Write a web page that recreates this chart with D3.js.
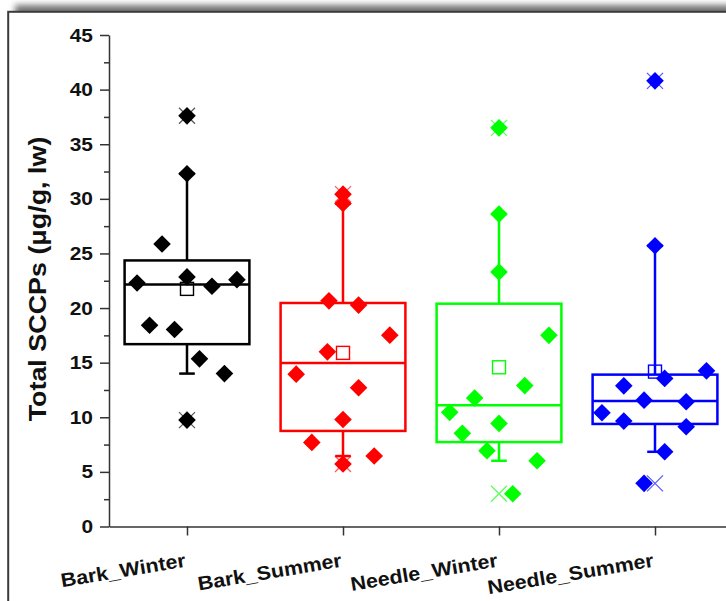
<!DOCTYPE html>
<html>
<head>
<meta charset="utf-8">
<script src="https://cdn.jsdelivr.net/npm/d3@7"></script>
<style>
  html, body { margin: 0; padding: 0; background: #fff; overflow: hidden; }
  svg { display: block; }
  text { font-family: "Liberation Sans", Arial, sans-serif; font-weight: bold; fill: #111; }
</style>
</head>
<body>
<svg id="chart" width="726" height="601"></svg>
<script>
// Sample groups along the x axis
const categories = ["Bark_Winter", "Bark_Summer", "Needle_Winter", "Needle_Summer"];
const seriesColors = ["#000000", "#ff0000", "#00ff00", "#0000ff"];

// Total SCCPs per sample (µg/g, lw)
const barkWinter   = [37.6, 32.3, 25.87, 22.3, 22.85, 22.0, 22.6, 18.43, 18.04, 15.35, 14.0, 9.74];
const barkSummer   = [30.43, 29.57, 20.66, 20.27, 17.52, 15.99, 13.95, 12.7, 9.8, 7.7, 6.45, 5.72];
const needleWinter = [36.5, 28.6, 23.3, 17.5, 12.9, 11.76, 10.45, 9.44, 8.53, 6.93, 6.02, 3.0];
const needleSummer = [40.8, 25.7, 14.25, 13.56, 12.88, 11.57, 11.42, 10.41, 9.65, 9.13, 6.84, 3.95];

// Horizontal scatter of each sample around its group centre (in group units)
const barkWinterJitter   = [0, 0, -0.16, -0.32, 0, 0.16, 0.32, -0.24, -0.08, 0.08, 0.24, 0];
const barkSummerJitter   = [0, 0, -0.09, 0.10, 0.30, -0.10, -0.30, 0.10, 0, -0.20, 0.20, 0];
const needleWinterJitter = [0, 0, 0, 0.32, 0.165, -0.156, -0.316, 0, -0.235, -0.077, 0.244, 0.088];
const needleSummerJitter = [0, 0, 0.33, 0.062, -0.20, -0.07, 0.20, -0.34, -0.20, 0.20, 0.062, -0.07];

const yTickValues = d3.range(0, 46, 5);
const yMinorValues = d3.range(2.5, 45, 5);

const groups = [
  { values: barkWinter,   jitter: barkWinterJitter },
  { values: barkSummer,   jitter: barkSummerJitter },
  { values: needleWinter, jitter: needleWinterJitter },
  { values: needleSummer, jitter: needleSummerJitter }
];

const svg = d3.select("#chart");

// ---- page frame with a soft shadow along its top edge ----
const defs = svg.append("defs");
defs.append("filter").attr("id", "soft").attr("x", "-10%").attr("y", "-200%")
  .attr("width", "120%").attr("height", "500%")
  .append("feGaussianBlur").attr("stdDeviation", 3);
defs.append("clipPath").attr("id", "aboveFrame")
  .append("rect").attr("x", 0).attr("y", 0).attr("width", 726).attr("height", 12);

svg.append("g").attr("clip-path", "url(#aboveFrame)")
  .append("rect")
  .attr("x", 15).attr("y", 5).attr("width", 760).attr("height", 14)
  .attr("fill", "#000").attr("opacity", 0.55)
  .attr("filter", "url(#soft)");

svg.append("rect")
  .attr("x", 8.2).attr("y", 11.8).attr("width", 760).attr("height", 640)
  .attr("fill", "#fff").attr("stroke", "#3b3b3b").attr("stroke-width", 2);

// ---- scales ----
const y = d3.scaleLinear().domain([0, 45]).range([526.5, 35]);
const x = d3.scaleLinear().domain([0.5, 4.5]).range([109, 733]);

function widen(sel, k) {
  sel.each(function () {
    const w = this.getComputedTextLength();
    d3.select(this).attr("textLength", w * k).attr("lengthAdjust", "spacingAndGlyphs");
  });
}

function styleAxis(g) {
  g.select(".domain").attr("stroke", "#333").attr("stroke-width", 1.5);
  g.selectAll(".tick line").attr("stroke", "#333").attr("stroke-width", 1.5);
}

// ---- y axis: major ticks with labels, minor ticks between ----
const yAxisG = svg.append("g").attr("transform", "translate(109,0)")
  .call(d3.axisLeft(y).tickValues(yTickValues).tickSize(9).tickSizeOuter(0).tickPadding(7));
styleAxis(yAxisG);
yAxisG.selectAll(".tick text")
  .attr("font-size", 19).attr("fill", "#111")
  .call(widen, 1.1);

const yMinorG = svg.append("g").attr("transform", "translate(109,0)")
  .call(d3.axisLeft(y).tickValues(yMinorValues).tickSize(5).tickFormat(""));
yMinorG.select(".domain").remove();
yMinorG.selectAll(".tick line").attr("stroke", "#333").attr("stroke-width", 1.5);

// ---- x axis with tilted group names ----
const xAxisG = svg.append("g").attr("transform", `translate(0,${y(0)})`)
  .call(d3.axisBottom(x).tickValues([1, 2, 3, 4])
    .tickFormat(d => categories[d - 1]).tickSize(9).tickSizeOuter(0));
styleAxis(xAxisG);
xAxisG.selectAll(".tick text")
  .attr("font-size", 19.5).attr("fill", "#111")
  .attr("text-anchor", "end")
  .attr("x", 0).attr("y", 0).attr("dy", 0)
  .attr("transform", "translate(-1,40) rotate(-9.5)")
  .call(widen, 1.1);

// ---- y axis title ----
svg.append("text")
  .attr("transform", "translate(46,279) rotate(-90)")
  .attr("text-anchor", "middle")
  .attr("font-size", 24)
  .text("Total SCCPs (\u03bcg/g, lw)")
  .call(widen, 1.12);

// ---- boxes, whiskers, means, extremes and samples ----
const boxHalf = 0.4;
const capHalf = 0.05;
const diamond = d3.symbol().type(d3.symbolSquare).size(155);
const meanSide = 13;
const crossHalf = 8;

groups.forEach((grp, i) => {
  const cx = i + 1;
  const color = seriesColors[i];
  const sorted = d3.sort(grp.values);
  const n = sorted.length;
  const med = d3.median(sorted);
  const q1 = d3.median(sorted.slice(0, Math.floor(n / 2)));
  const q3 = d3.median(sorted.slice(Math.ceil(n / 2)));
  const mean = d3.mean(sorted);
  const pLow = sorted[Math.ceil(0.1 * n) - 1];
  const pHigh = sorted[Math.ceil(0.9 * n) - 1];
  const vMin = sorted[0];
  const vMax = sorted[n - 1];

  const g = svg.append("g").attr("stroke", color).attr("fill", "none");

  // whiskers
  g.append("line").attr("x1", x(cx)).attr("x2", x(cx))
    .attr("y1", y(q3)).attr("y2", y(pHigh)).attr("stroke-width", 2.5);
  g.append("line").attr("x1", x(cx)).attr("x2", x(cx))
    .attr("y1", y(q1)).attr("y2", y(pLow)).attr("stroke-width", 2.5);
  [pLow, pHigh].forEach(v => {
    g.append("line").attr("x1", x(cx - capHalf)).attr("x2", x(cx + capHalf))
      .attr("y1", y(v)).attr("y2", y(v)).attr("stroke-width", 2.5);
  });

  // box and median
  g.append("rect")
    .attr("x", x(cx - boxHalf)).attr("y", y(q3))
    .attr("width", x(cx + boxHalf) - x(cx - boxHalf))
    .attr("height", y(q1) - y(q3))
    .attr("stroke-width", 2.5);
  g.append("line").attr("x1", x(cx - boxHalf)).attr("x2", x(cx + boxHalf))
    .attr("y1", y(med)).attr("y2", y(med)).attr("stroke-width", 2.5);

  // min / max crosses
  [vMin, vMax].forEach(v => {
    const px = x(cx), py = y(v);
    g.append("path")
      .attr("d", `M${px - crossHalf},${py - crossHalf}L${px + crossHalf},${py + crossHalf}` +
                 `M${px - crossHalf},${py + crossHalf}L${px + crossHalf},${py - crossHalf}`)
      .attr("stroke-width", 1.3).attr("stroke-opacity", 0.65);
  });

  // samples as diamonds
  svg.append("g").selectAll("path")
    .data(grp.values.map((v, k) => ({ v, off: grp.jitter[k] })))
    .join("path")
    .attr("d", diamond)
    .attr("transform", d => `translate(${x(cx + d.off)},${y(d.v)}) rotate(45)`)
    .attr("fill", color);

  // mean
  svg.append("rect")
    .attr("x", x(cx) - meanSide / 2).attr("y", y(mean) - meanSide / 2)
    .attr("width", meanSide).attr("height", meanSide)
    .attr("fill", "none").attr("stroke", color).attr("stroke-width", 1.4);
});
</script>
</body>
</html>
